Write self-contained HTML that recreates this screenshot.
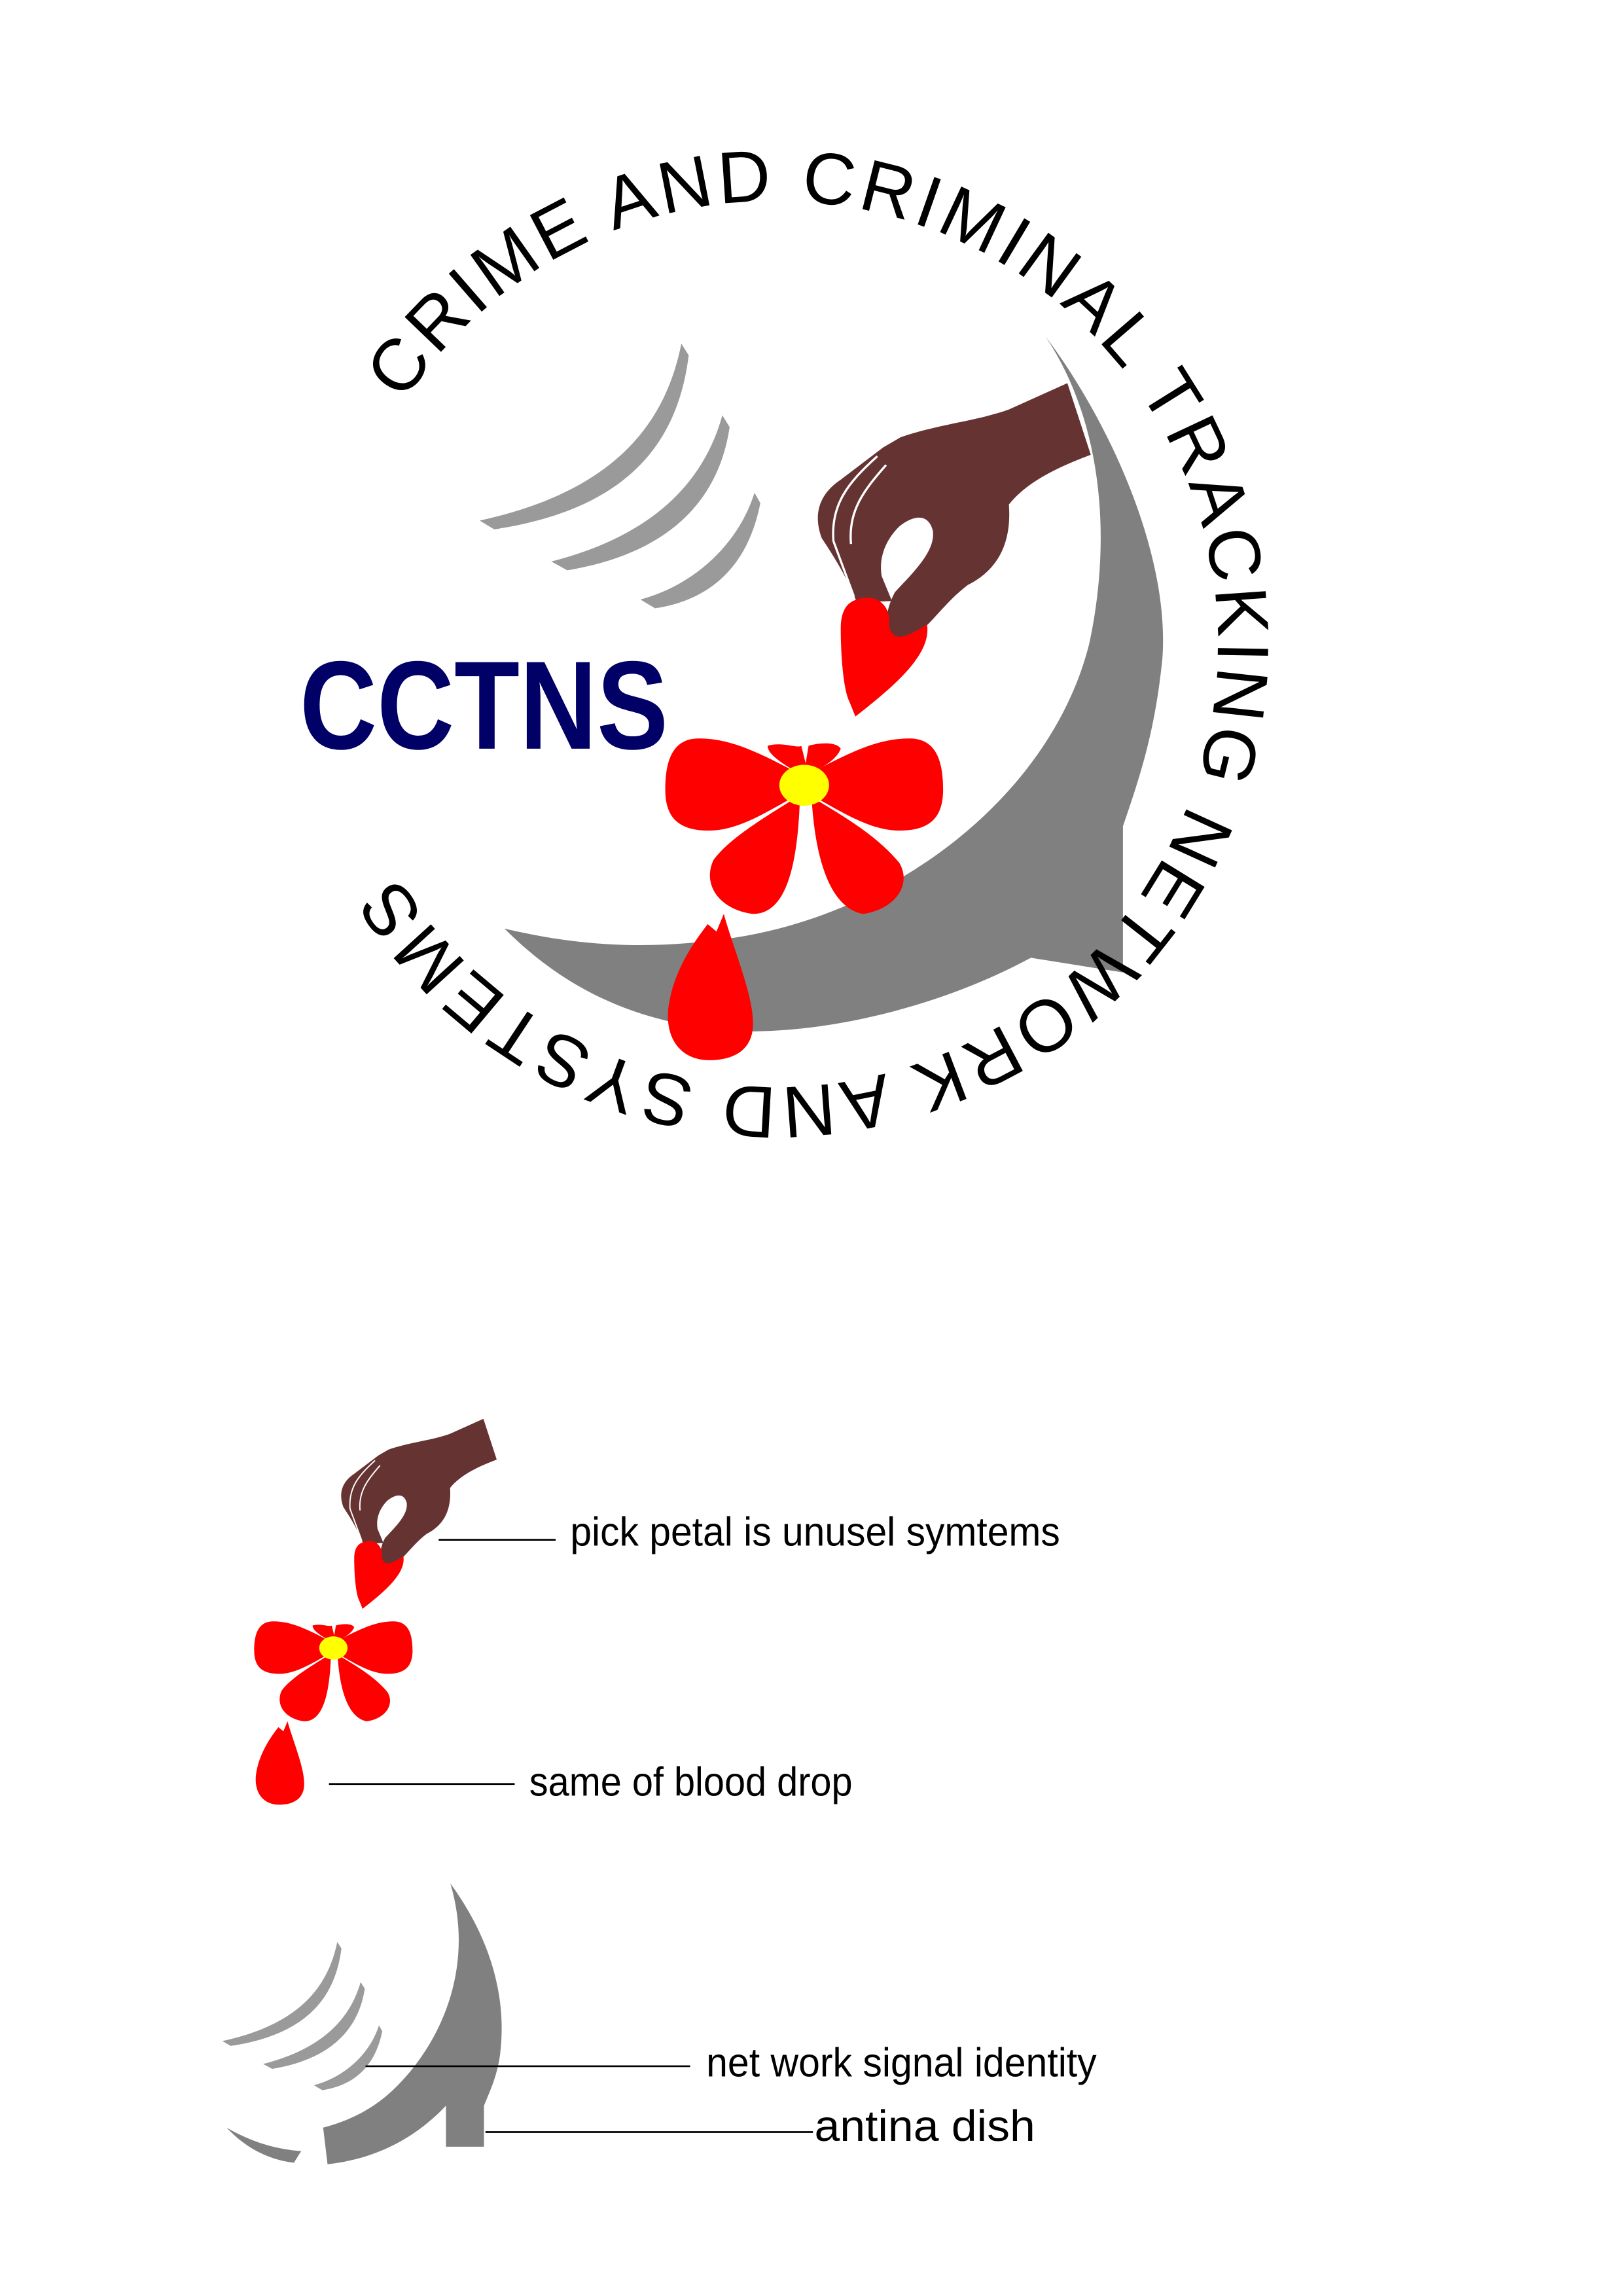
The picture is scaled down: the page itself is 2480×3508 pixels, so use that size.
<!DOCTYPE html>
<html><head><meta charset="utf-8"><style>
html,body{margin:0;padding:0;background:#fff}
svg{display:block}
</style></head><body>
<svg width="2480" height="3508" viewBox="0 0 1100 1556" preserveAspectRatio="none" xmlns="http://www.w3.org/2000/svg">
<defs>
<path id="ring" d="M276,275 A303,303 0 1 1 273,601"/>
<g id="arcs" fill="#9a9a9a">
<path d="M466,235 L471,243 C464,300 432,348 338,362 L328,356 C420,336 455,290 466,235Z"/>
<path d="M494,284 L499,292 C492,340 460,378 388,390 L377,384 C440,368 480,335 494,284Z"/>
<path d="M516,337 L520,344 C512,385 488,410 448,416 L438,410 C475,400 505,372 516,337Z"/>
</g>
<g id="hfd">
<path fill="#663333" d="M730,262 L746,311 C722,320 702,330 690,345 C692,372 682,390 662,400 C642,415 632,436 616,439 C604,436 604,420 612,405 C624,392 640,377 638,363 C635,351 625,352 615,360 C605,370 601,382 603,394 L610,411 L586,412 C580,396 570,380 562,368 C556,352 560,338 575,328 L604,306 L616,299 C642,290 668,288 690,280 Z"/>
<path fill="none" stroke="#fff" stroke-width="1.5" d="M600,312 C580,330 568,345 570,370 L584,408 M606,318 C590,336 580,350 582,372"/>
<path fill="#ff0000" d="M586,410 C600,405 610,415 608,428 C611,442 624,433 634,427 C637,446 616,466 585,490 L581,480 C576,470 575,442 575,430 C575,418 579,412 586,410Z"/>
<path fill="#ff0000" d="M548,530 C520,515 500,505 478,505 C460,505 455,520 455,540 C455,560 465,568 485,568 C505,568 525,555 548,542Z"/>
<path fill="#ff0000" d="M552,530 C580,515 600,505 622,505 C640,505 645,520 645,540 C645,560 635,568 615,568 C595,568 575,555 552,542Z"/>
<path fill="#ff0000" d="M545,545 C525,558 500,572 488,588 C480,605 492,622 515,625 C535,625 545,600 547,548Z"/>
<path fill="#ff0000" d="M555,545 C557,580 565,620 590,625 C612,622 624,605 615,590 C600,572 580,560 555,545Z"/>
<path fill="#ff0000" d="M525,510 C535,507 545,512 548,510 L551,522 L553,510 C560,508 572,507 575,512 C572,520 562,525 552,530 L540,525 C532,520 525,515 525,510Z"/>
<ellipse cx="550" cy="537" rx="17" ry="14" fill="#ffff00"/>
<path fill="#ff0000" d="M495,625 C502,650 515,680 515,700 C515,718 502,725 485,725 C467,725 455,712 457,690 C460,665 474,645 484,632 L490,637Z"/>
</g>
</defs>
<g transform="scale(0.991)">
<!-- TOP LOGO -->
<path fill="#808080" d="M715,230 C760,290 800,380 795,450 C790,500 780,530 768,565 L768,665 L705,655 C640,690 560,708 500,705 C440,700 390,680 345,635 C400,648 450,650 510,640 C620,620 720,540 745,440 C760,370 755,290 715,230 Z"/>
<use href="#arcs"/>
<use href="#hfd"/>
<text x="205" y="512" font-family="Liberation Sans, sans-serif" font-weight="bold" font-size="86" fill="#000066" textLength="252" lengthAdjust="spacingAndGlyphs">CCTNS</text>
<text font-family="Liberation Sans, sans-serif" font-size="50" fill="#000"><textPath href="#ring" textLength="1561" lengthAdjust="spacing">CRIME AND  CRIMINAL TRACKING NETWORK AND SYSTEMS</textPath></text>

<!-- BOTTOM DETAIL -->
<g transform="translate(228,1127) scale(0.57) translate(-550,-537)"><use href="#hfd"/></g>

<path fill="#808080" d="M308,1288 C335,1325 347,1365 342,1405 C340,1420 335,1430 331,1440 L331,1468 L305,1468 L305,1440 C288,1458 262,1476 224,1480 L221,1455 C240,1450 255,1442 268,1430 C302,1398 325,1345 308,1288Z"/>
<path fill="#808080" d="M155,1455 C172,1465 190,1470 206,1471 L201,1479 C184,1477 168,1469 155,1455Z"/>
<g transform="translate(152,1328) scale(0.57,0.56) translate(-328,-235)"><use href="#arcs"/></g>

<g stroke="#000" stroke-width="1.2">
<line x1="300" y1="1053" x2="380" y2="1053"/>
<line x1="225" y1="1220" x2="352" y2="1220"/>
<line x1="250" y1="1413" x2="472" y2="1413"/>
<line x1="332" y1="1458" x2="556" y2="1458"/>
</g>
<g font-family="Liberation Sans, sans-serif" fill="#000">
<text x="390" y="1057" font-size="28" textLength="335" lengthAdjust="spacingAndGlyphs">pick  petal is unusel symtems</text>
<text x="362" y="1228" font-size="28" textLength="221" lengthAdjust="spacingAndGlyphs">same of blood drop</text>
<text x="483" y="1420" font-size="28" textLength="267" lengthAdjust="spacingAndGlyphs">net work signal  identity</text>
<text x="557" y="1464" font-size="30" textLength="151" lengthAdjust="spacingAndGlyphs">antina dish</text>
</g>
</g>
</svg>
</body></html>
